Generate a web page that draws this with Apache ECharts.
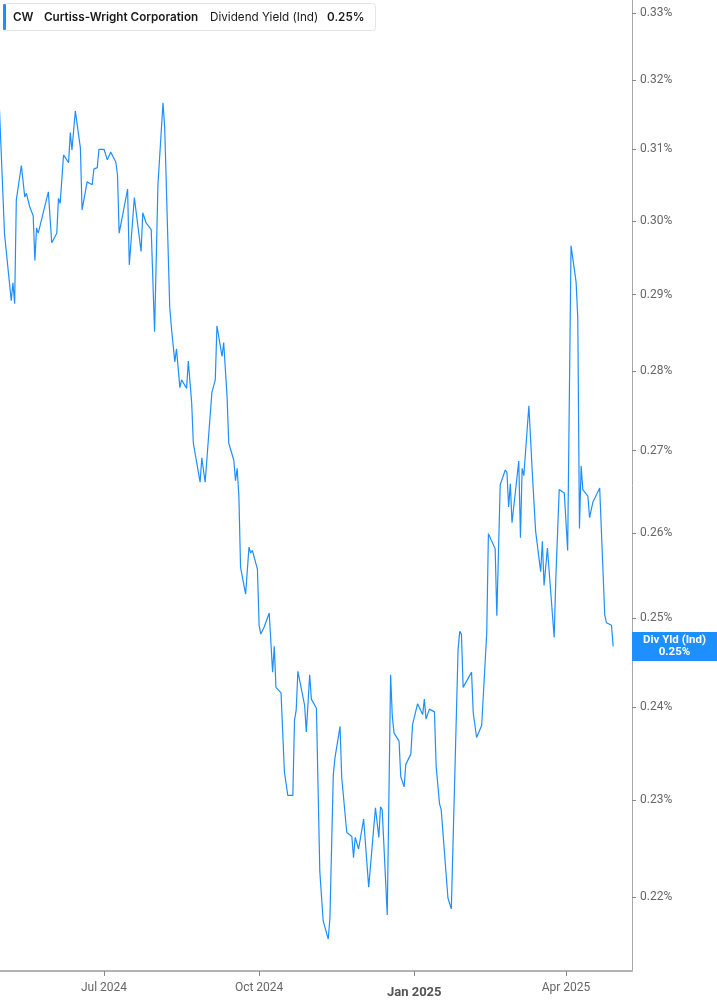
<!DOCTYPE html>
<html>
<head>
<meta charset="utf-8">
<script src="https://cdn.jsdelivr.net/npm/echarts@6/dist/echarts.min.js"></script>
<style>
html,body{margin:0;padding:0;background:#fff;}
#chart{width:717px;height:1005px;}
</style>
</head>
<body>
<div id="chart"></div>
<script>
var ticker = 'CW';
var company = 'Curtiss-Wright Corporation';
var metric = 'Dividend Yield (Ind)';
var shortMetric = 'Div Yld (Ind)';

var dates = [
'2024-04-30','2024-05-03','2024-05-07','2024-05-08','2024-05-09','2024-05-10','2024-05-13','2024-05-15','2024-05-16','2024-05-18',
'2024-05-20','2024-05-21','2024-05-22','2024-05-23','2024-05-29','2024-05-31','2024-06-03','2024-06-04','2024-06-05','2024-06-07',
'2024-06-10','2024-06-11','2024-06-12','2024-06-14','2024-06-17','2024-06-18','2024-06-21','2024-06-24','2024-06-25','2024-06-27',
'2024-06-28','2024-07-01','2024-07-03','2024-07-05','2024-07-08','2024-07-09','2024-07-10','2024-07-11','2024-07-15','2024-07-16',
'2024-07-19','2024-07-23','2024-07-24','2024-07-25','2024-07-26','2024-07-29','2024-07-31','2024-08-02','2024-08-05','2024-08-06',
'2024-08-07','2024-08-09','2024-08-10','2024-08-12','2024-08-13','2024-08-15','2024-08-16','2024-08-19','2024-08-20','2024-08-22',
'2024-08-23','2024-08-27','2024-08-28','2024-08-30','2024-09-03','2024-09-04','2024-09-05','2024-09-06','2024-09-09','2024-09-10',
'2024-09-12','2024-09-13','2024-09-16','2024-09-17','2024-09-18','2024-09-19','2024-09-20','2024-09-23','2024-09-25','2024-09-26',
'2024-09-27','2024-09-30','2024-10-01','2024-10-02','2024-10-04','2024-10-07','2024-10-09','2024-10-10','2024-10-11','2024-10-14',
'2024-10-15','2024-10-16','2024-10-18','2024-10-21','2024-10-22','2024-10-23','2024-10-24','2024-10-28','2024-10-29','2024-10-30',
'2024-10-31','2024-11-01','2024-11-04','2024-11-06','2024-11-07','2024-11-08','2024-11-11','2024-11-12','2024-11-13','2024-11-14',
'2024-11-15','2024-11-18','2024-11-19','2024-11-20','2024-11-22','2024-11-25','2024-11-26','2024-11-27','2024-11-29','2024-12-02',
'2024-12-05','2024-12-06','2024-12-09','2024-12-11','2024-12-12','2024-12-13','2024-12-16','2024-12-18','2024-12-19','2024-12-20',
'2024-12-23','2024-12-24','2024-12-26','2024-12-27','2024-12-30','2024-12-31','2025-01-03','2025-01-06','2025-01-07','2025-01-08',
'2025-01-10','2025-01-13','2025-01-14','2025-01-16','2025-01-17','2025-01-21','2025-01-23','2025-01-24','2025-01-27','2025-01-28',
'2025-01-29','2025-01-30','2025-01-31','2025-02-04','2025-02-05','2025-02-06','2025-02-07','2025-02-10','2025-02-13','2025-02-14',
'2025-02-18','2025-02-19','2025-02-21','2025-02-24','2025-02-25','2025-02-26','2025-02-27','2025-02-28','2025-03-04','2025-03-05',
'2025-03-06','2025-03-07','2025-03-10','2025-03-12','2025-03-13','2025-03-14','2025-03-17','2025-03-18','2025-03-19','2025-03-21',
'2025-03-25','2025-03-26','2025-03-28','2025-03-31','2025-04-02','2025-04-04','2025-04-07','2025-04-08','2025-04-09','2025-04-10',
'2025-04-11','2025-04-14','2025-04-15','2025-04-17','2025-04-21','2025-04-24','2025-04-25','2025-04-28','2025-04-29'
];

var yields = [
0.3157,0.2982,0.2892,0.2916,0.2888,0.3029,0.3077,0.3033,0.3038,0.3019,
0.3007,0.2946,0.2990,0.2983,0.3040,0.2970,0.2983,0.3031,0.3024,0.3092,
0.3081,0.3124,0.3099,0.3155,0.3102,0.3015,0.3054,0.3050,0.3072,0.3074,
0.3100,0.3100,0.3085,0.3096,0.3082,0.3064,0.2983,0.2982,0.3044,0.2940,
0.3032,0.2958,0.3011,0.3012,0.2997,0.2988,0.2851,0.3050,0.3167,0.3131,
0.3132,0.2883,0.2856,0.2812,0.2829,0.2779,0.2789,0.2778,0.2813,0.2760,
0.2709,0.2661,0.2691,0.2661,0.2773,0.2775,0.2789,0.2859,0.2819,0.2837,
0.2767,0.2709,0.2688,0.2663,0.2678,0.2644,0.2559,0.2528,0.2583,0.2576,
0.2579,0.2557,0.2492,0.2482,0.2490,0.2506,0.2439,0.2468,0.2422,0.2416,
0.2416,0.2330,0.2305,0.2305,0.2386,0.2397,0.2440,0.2402,0.2373,0.2374,
0.2436,0.2409,0.2399,0.2226,0.2226,0.2176,0.2158,0.2179,0.2180,0.2327,
0.2345,0.2379,0.2324,0.2325,0.2266,0.2262,0.2240,0.2261,0.2249,0.2280,
0.2210,0.2209,0.2292,0.2261,0.2293,0.2290,0.2182,0.2436,0.2390,0.2372,
0.2363,0.2325,0.2314,0.2338,0.2349,0.2381,0.2404,0.2392,0.2409,0.2387,
0.2398,0.2395,0.2336,0.2296,0.2290,0.2199,0.2188,0.2189,0.2464,0.2485,
0.2482,0.2422,0.2422,0.2439,0.2394,0.2396,0.2367,0.2380,0.2483,0.2599,
0.2581,0.2503,0.2658,0.2676,0.2673,0.2631,0.2659,0.2612,0.2687,0.2594,
0.2678,0.2669,0.2756,0.2674,0.2673,0.2602,0.2554,0.2590,0.2538,0.2582,
0.2478,0.2547,0.2652,0.2648,0.2579,0.2966,0.2917,0.2870,0.2605,0.2681,
0.2652,0.2644,0.2618,0.2637,0.2654,0.2504,0.2495,0.2492,0.2468
];

var yTicks = [0.22,0.23,0.24,0.25,0.26,0.27,0.28,0.29,0.30,0.31,0.32,0.33];
var xTicks = ['2024-07-01','2024-10-01','2025-01-01','2025-04-01'];
var monthNames = ['Jan','Feb','Mar','Apr','May','Jun','Jul','Aug','Sep','Oct','Nov','Dec'];

function toTs(s){ var p = s.split('-'); return new Date(+p[0], +p[1]-1, +p[2]).getTime(); }

var seriesData = dates.map(function(d,i){ return [toTs(d), yields[i]]; });
var lastVal = yields[yields.length-1];
var xTickTs = xTicks.map(toTs);
var xMin = new Date(2024,3,30,7,41).getTime();
var xMax = new Date(2025,4,10,4,0).getTime();

var blue = '#1e8fff';
var chart = echarts.init(document.getElementById('chart'), null, {renderer:'canvas'});

chart.setOption({
  animation: false,
  backgroundColor: '#fff',
  grid: {left: 0, right: 85, top: 0, bottom: 34, containLabel: false},
  xAxis: {
    type: 'value',
    min: xMin,
    max: xMax,
    axisLine: {show: true, lineStyle: {color: '#b4b4b4', width: 2}},
    axisTick: {show: true, customValues: xTickTs, length: 5, lineStyle: {color: '#888', width: 1}},
    splitLine: {show: false},
    axisLabel: {
      customValues: xTickTs,
      margin: 11,
      color: '#666',
      fontFamily: 'Roboto',
      fontSize: 12,
      formatter: function(v){
        var d = new Date(v);
        var s = monthNames[d.getMonth()] + ' ' + d.getFullYear();
        return d.getMonth() === 0 ? '{b|' + s + '}' : s;
      },
      rich: {b: {fontWeight: 'bold', fontSize: 13, color: '#555', fontFamily: 'Roboto', padding: [4,0,0,0]}}
    }
  },
  yAxis: {
    type: 'log',
    logBase: 10,
    position: 'right',
    min: 0.21266,
    max: 0.33197,
    axisLine: {show: true, lineStyle: {color: '#a8a8a8', width: 1}},
    axisTick: {show: true, customValues: yTicks, length: 4, lineStyle: {color: '#888'}},
    splitLine: {show: false},
    minorTick: {show: false},
    axisLabel: {
      customValues: yTicks,
      margin: 8,
      color: '#666',
      fontFamily: 'Roboto',
      fontSize: 12,
      formatter: function(v){ return v.toFixed(2) + '%'; }
    }
  },
  series: [{
    type: 'line',
    data: seriesData,
    showSymbol: false,
    symbol: 'none',
    lineStyle: {color: blue, width: 1.2},
    silent: true
  }],
  graphic: [
    {type: 'rect', shape: {x: 3.5, y: 3.5, width: 372, height: 27, r: 3}, style: {fill: '#fff', stroke: '#e4e4e4', lineWidth: 1}, z: 100},
    {type: 'rect', shape: {x: 3, y: 4, width: 3, height: 26, r: 1}, style: {fill: blue}, z: 101},
    {type: 'text', x: 13, y: 17, style: {text: ticker, fontFamily: 'Inter', fontWeight: 600, fontSize: 11.7, fill: '#1a1a1a', verticalAlign: 'middle'}, z: 101},
    {type: 'text', x: 44, y: 17, style: {text: company, fontFamily: 'Inter', fontWeight: 600, fontSize: 11.7, fill: '#1a1a1a', verticalAlign: 'middle'}, z: 101},
    {type: 'text', x: 210, y: 17, style: {text: metric, fontFamily: 'Inter', fontSize: 11.7, fill: '#1a1a1a', verticalAlign: 'middle'}, z: 101},
    {type: 'text', x: 327, y: 17, style: {text: lastVal.toFixed(2) + '%', fontFamily: 'Inter', fontWeight: 600, fontSize: 11.7, fill: '#1a1a1a', verticalAlign: 'middle'}, z: 101}
  ]
});

// end-of-series label box on the value axis, positioned through the chart's scales
var endY = chart.convertToPixel({yAxisIndex: 0}, lastVal);
var axisX = chart.convertToPixel({xAxisIndex: 0}, xMax);
var boxW = chart.getWidth() - axisX;
var boxH = 29;
chart.setOption({
  graphic: [
    {type: 'rect', id: 'endBox', shape: {x: axisX, y: endY - boxH / 2, width: boxW, height: boxH}, style: {fill: blue}, z: 110},
    {type: 'text', id: 'endTxt1', x: axisX + boxW / 2, y: endY - 6, style: {text: shortMetric, fontFamily: 'Roboto', fontWeight: 'bold', fontSize: 11.5, fill: '#fff', align: 'center', verticalAlign: 'middle'}, z: 111},
    {type: 'text', id: 'endTxt2', x: axisX + boxW / 2, y: endY + 6, style: {text: lastVal.toFixed(2) + '%', fontFamily: 'Roboto', fontWeight: 'bold', fontSize: 11.5, fill: '#fff', align: 'center', verticalAlign: 'middle'}, z: 111}
  ]
});
</script>
</body>
</html>
